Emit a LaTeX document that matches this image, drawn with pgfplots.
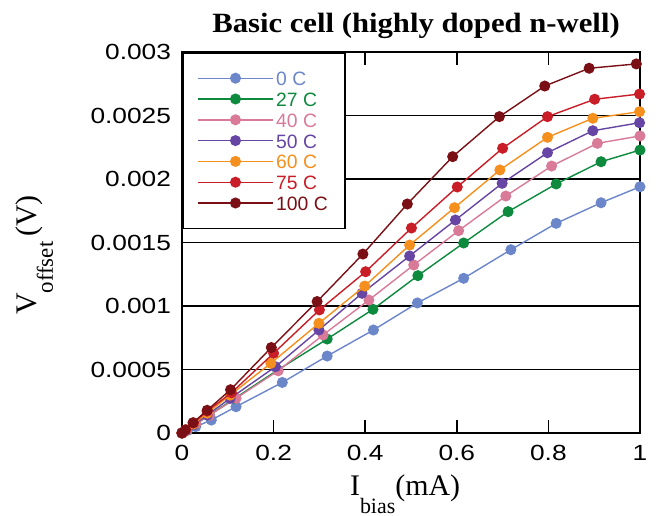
\documentclass[border=0pt]{standalone}
\usepackage{fontspec}
\setmainfont{Liberation Serif}
\setsansfont{Liberation Sans}
\newfontfamily\tickfont[FakeStretch=1.2]{Liberation Sans}
\newfontfamily\titlefont[FakeStretch=1.1]{Liberation Serif}
\usepackage{pgfplots}
\pgfplotsset{compat=1.18}

\definecolor{cA}{HTML}{6B86C9}
\definecolor{cB}{HTML}{0E8A3F}
\definecolor{cC}{HTML}{D97A98}
\definecolor{cD}{HTML}{6645A5}
\definecolor{cE}{HTML}{F5901F}
\definecolor{cF}{HTML}{C91D27}
\definecolor{cG}{HTML}{7A1015}

\pgfplotsset{
  temp/.style={color=#1, line width=0.7bp, mark=*, mark size=2.4bp, mark options={solid, fill=#1}},
}

\begin{document}
\begin{tikzpicture}
\path[use as bounding box] (-91bp,-41.5bp) rectangle (239bp,216.5bp);
\begin{axis}[
    at={(0,0)}, anchor=south west,
    scale only axis,
    width=229bp, height=190.5bp,
    xmin=0, xmax=1, ymin=0, ymax=0.003,
    xtick={0,0.2,0.4,0.6,0.8,1},
    xticklabels={0,0.2,0.4,0.6,0.8,1},
    ytick={0,0.0005,0.001,0.0015,0.002,0.0025,0.003},
    yticklabels={0,0.0005,0.001,0.0015,0.002,0.0025,0.003},
    scaled y ticks=false,
    tick align=inside,
    major tick length=6.5bp,
    axis line style={line width=1bp},
    every tick/.style={black, line width=0.8bp},
    ymajorgrids,
    grid style={black, line width=0.8bp},
    ticklabel style={font=\tickfont\fontsize{11}{11}\selectfont},
    yticklabel style={xshift=-2bp},
    xticklabel style={yshift=-2.5bp},
    clip mode=individual,
    legend cell align=left,
    legend image code/.code={\draw[#1, mark repeat=2, mark phase=2] plot coordinates {(0bp,0bp) (18.75bp,0bp) (37.5bp,0bp)};},
    legend style={at={(rel axis cs:0,1)}, anchor=north west, draw=black, line width=0.8bp,
        fill=white, inner xsep=7.25bp, inner ysep=7.5bp, row sep=0pt,
        font=\sffamily\fontsize{9.7}{9.7}\selectfont,
        nodes={text height=8.4bp, text depth=1bp, inner ysep=0.5bp, inner xsep=1.25bp}},
]
% 0 C
\addplot[temp=cA] coordinates {
 (0,0) (0.012,0.00002) (0.03,0.00005) (0.064,0.000102) (0.118,0.000207) (0.219,0.000398)
 (0.317,0.000606) (0.418,0.000811) (0.514,0.001024) (0.615,0.001218) (0.718,0.001443)
 (0.817,0.001651) (0.915,0.001813) (1.0,0.001939) };
\addlegendentry{\textcolor{cA}{0 C}}
% 27 C
\addplot[temp=cB] coordinates {
 (0,0) (0.01,0.000024) (0.03,0.00007) (0.06,0.000142) (0.115,0.000272) (0.209,0.000496)
 (0.317,0.00074) (0.417,0.000974) (0.515,0.001239) (0.615,0.001496) (0.712,0.001743)
 (0.817,0.001961) (0.915,0.002136) (1.0,0.002228) };
\addlegendentry{\textcolor{cB}{27 C}}
% 40 C
\addplot[temp=cC] coordinates {
 (0,0) (0.01,0.000023) (0.03,0.00007) (0.06,0.000139) (0.118,0.000273) (0.21,0.00049)
 (0.308,0.000772) (0.408,0.001047) (0.506,0.001323) (0.604,0.001593) (0.707,0.001866)
 (0.807,0.002102) (0.907,0.002281) (1.0,0.002339) };
\addlegendentry{\textcolor{cC}{40 C}}
% 50 C
\addplot[temp=cD] coordinates {
 (0,0) (0.008,0.00002) (0.025,0.000064) (0.055,0.000141) (0.105,0.000272) (0.204,0.000522)
 (0.299,0.000811) (0.393,0.0011) (0.497,0.001394) (0.597,0.001677) (0.699,0.001966)
 (0.798,0.002207) (0.897,0.00238) (0.999,0.002443) };
\addlegendentry{\textcolor{cD}{50 C}}
% 60 C
\addplot[temp=cE] coordinates {
 (0,0) (0.008,0.000023) (0.025,0.000071) (0.055,0.000156) (0.105,0.000298) (0.194,0.000549)
 (0.299,0.000864) (0.399,0.001157) (0.497,0.00148) (0.595,0.001774) (0.694,0.002071)
 (0.798,0.002328) (0.897,0.002478) (0.999,0.00253) };
\addlegendentry{\textcolor{cE}{60 C}}
% 75 C
\addplot[temp=cF] coordinates {
 (0,0) (0.008,0.000025) (0.025,0.000079) (0.055,0.000172) (0.108,0.000317) (0.2,0.000628)
 (0.3,0.000969) (0.401,0.00127) (0.501,0.001614) (0.601,0.001937) (0.7,0.002242)
 (0.798,0.002491) (0.901,0.002628) (0.999,0.002669) };
\addlegendentry{\textcolor{cF}{75 C}}
% 100 C
\addplot[temp=cG] coordinates {
 (0,0) (0.007,0.000024) (0.024,0.000081) (0.055,0.000179) (0.106,0.000341) (0.195,0.000673)
 (0.295,0.001035) (0.395,0.001409) (0.492,0.001803) (0.591,0.002176) (0.693,0.002491)
 (0.792,0.002732) (0.889,0.002872) (0.992,0.002906) };
\addlegendentry{\textcolor{cG}{100 C}}

\node[anchor=base, yshift=9.6bp, font=\titlefont\bfseries\fontsize{14}{14}\selectfont]
  at (rel axis cs:0.511,1) {Basic cell (highly doped n-well)};
\node[anchor=base, yshift=-31bp]
  at (rel axis cs:0.487,0) {\fontsize{15}{15}\selectfont I\raisebox{-9bp}{\fontsize{11}{11}\selectfont bias}(mA)};
\node[xshift=-72.6bp, yshift=89bp, rotate=90, anchor=base]
  at (rel axis cs:0,0) {\fontsize{15}{15}\selectfont V\raisebox{-8bp}{\fontsize{11.5}{11.5}\selectfont offset}\,(V)};
\end{axis}
\end{tikzpicture}
\end{document}
